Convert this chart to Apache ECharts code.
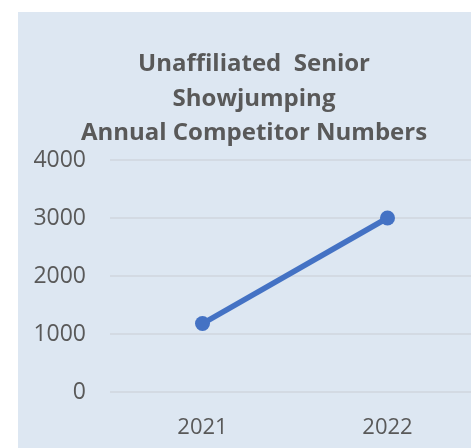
<!DOCTYPE html>
<html>
<head>
<meta charset="utf-8">
<script src="https://cdn.jsdelivr.net/npm/echarts@6/dist/echarts.min.js"></script>
<style>
  html, body { margin: 0; padding: 0; background: #ffffff; overflow: hidden; }
  #chart {
    position: absolute;
    left: 18px;
    top: 12px;
    width: 480px;
    height: 436px;
    background: #dde7f2;
  }
</style>
</head>
<body>
<div id="chart"></div>
<script>
// chart data
var years = ['2021', '2022'];
var competitors = [1180, 3000];
var yTicks = [0, 1000, 2000, 3000, 4000];

var chart = echarts.init(document.getElementById('chart'));
chart.setOption({
  animation: false,
  backgroundColor: 'transparent',
  textStyle: { fontFamily: 'Open Sans' },
  title: {
    text: 'Unaffiliated  Senior\nShowjumping\nAnnual Competitor Numbers',
    left: 231,
    top: 30,
    textAlign: 'center',
    textStyle: {
      color: '#595959',
      fontSize: 24,
      fontWeight: 'bold',
      lineHeight: 34.5,
      fontFamily: 'Open Sans'
    }
  },
  grid: {
    left: 92,
    top: 148,
    width: 370,
    height: 232,
    containLabel: false
  },
  xAxis: {
    type: 'category',
    data: years,
    boundaryGap: true,
    axisLine: { show: false },
    axisTick: { show: false },
    axisLabel: {
      color: '#595959',
      fontSize: 22,
      margin: 25
    }
  },
  yAxis: {
    type: 'value',
    min: yTicks[0],
    max: yTicks[yTicks.length - 1],
    interval: 1000,
    axisLine: { show: false },
    axisTick: { show: false },
    axisLabel: {
      color: '#595959',
      fontSize: 23,
      margin: 24,
      formatter: function (v) { return String(v); }
    },
    splitLine: {
      lineStyle: { color: '#cfd6de', width: 1.5 }
    }
  },
  series: [
    {
      type: 'line',
      data: competitors,
      symbol: 'circle',
      symbolSize: 15,
      lineStyle: { color: '#4472c4', width: 5.5 },
      itemStyle: { color: '#4472c4' }
    }
  ]
});
</script>
</body>
</html>
